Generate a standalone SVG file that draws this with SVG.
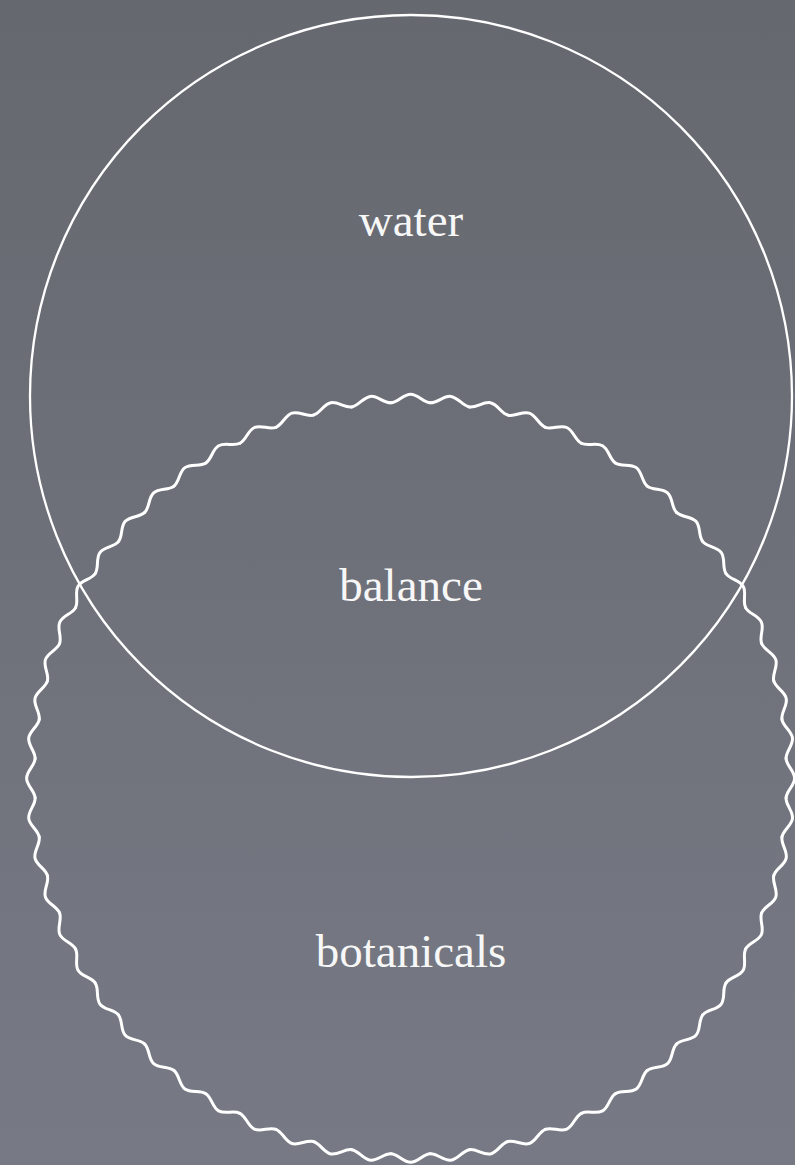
<svg xmlns="http://www.w3.org/2000/svg" xmlns:xlink="http://www.w3.org/1999/xlink" width="795" height="1165" viewBox="0 0 795 1165">
  <style>
    .ring { fill: none; stroke: #ffffff; stroke-linecap: round; stroke-linejoin: round; }
    .label { font-family: "Liberation Serif", "DejaVu Serif", serif; font-size: 47px; fill: #f7f7f7; text-anchor: middle; }
  </style>
  <defs>
    <linearGradient id="bg" x1="0" y1="0" x2="0" y2="1">
      <stop offset="0" stop-color="#66686f"/>
      <stop offset="1" stop-color="#777a85"/>
    </linearGradient>
    <path id="wave" class="ring" stroke-width="3" d="M -19.68 -375.48 C -12.52 -375.85 -7.32 -384 0 -384 C 7.32 -384 12.52 -375.85 19.68 -375.48"/>
    <g id="wave6">
      <use xlink:href="#wave"/>
      <use xlink:href="#wave" transform="rotate(6)"/>
      <use xlink:href="#wave" transform="rotate(12)"/>
      <use xlink:href="#wave" transform="rotate(18)"/>
      <use xlink:href="#wave" transform="rotate(24)"/>
      <use xlink:href="#wave" transform="rotate(30)"/>
    </g>
  </defs>
  <rect x="0" y="0" width="795" height="1165" fill="url(#bg)"/>
  <g id="water">
    <circle class="ring" cx="411" cy="396" r="381" stroke-width="2.3"/>
    <text class="label" x="411" y="236">water</text>
  </g>
  <g id="botanicals">
    <g transform="translate(410.6 778.3)">
      <use xlink:href="#wave6"/>
      <use xlink:href="#wave6" transform="rotate(36)"/>
      <use xlink:href="#wave6" transform="rotate(72)"/>
      <use xlink:href="#wave6" transform="rotate(108)"/>
      <use xlink:href="#wave6" transform="rotate(144)"/>
      <use xlink:href="#wave6" transform="rotate(180)"/>
      <use xlink:href="#wave6" transform="rotate(216)"/>
      <use xlink:href="#wave6" transform="rotate(252)"/>
      <use xlink:href="#wave6" transform="rotate(288)"/>
      <use xlink:href="#wave6" transform="rotate(324)"/>
    </g>
    <text class="label" x="411" y="967">botanicals</text>
  </g>
  <g id="balance">
    <text class="label" x="411" y="601">balance</text>
  </g>
  <g id="connectors"/>
</svg>
